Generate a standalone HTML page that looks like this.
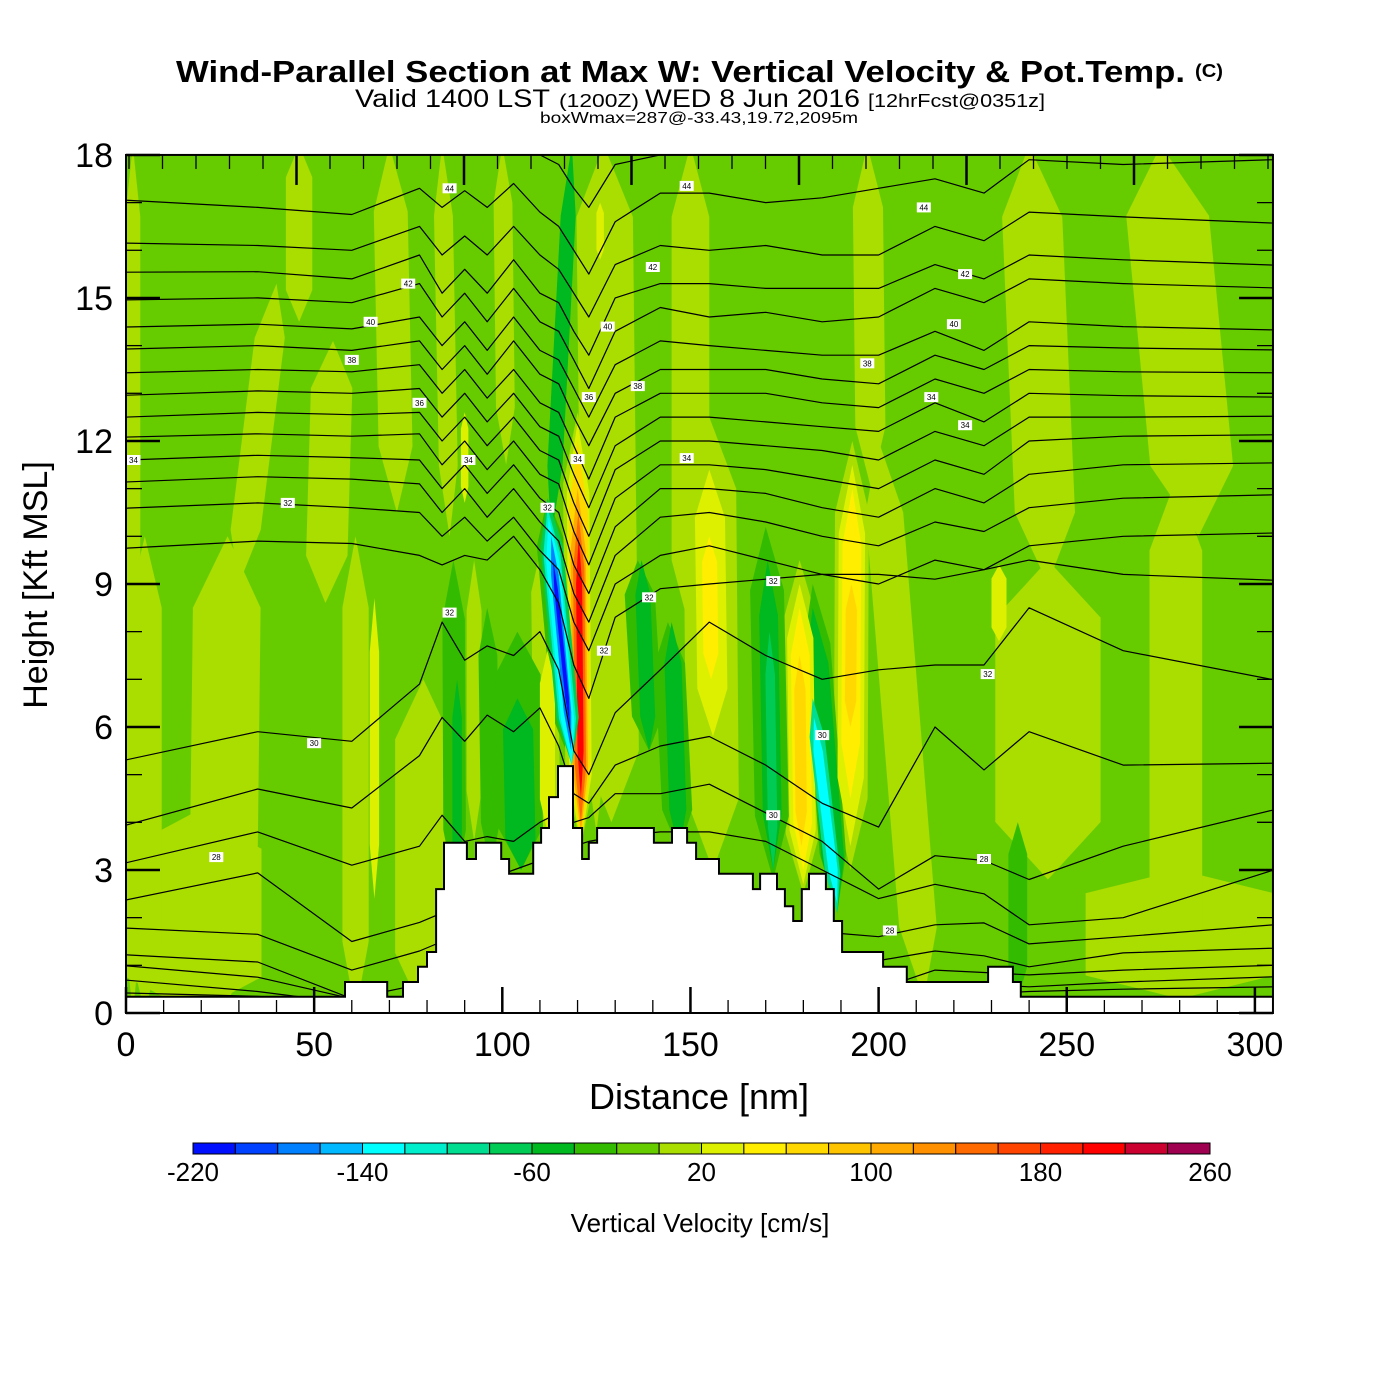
<!DOCTYPE html>
<html><head><meta charset="utf-8">
<style>
html,body{margin:0;padding:0;background:#fff;}
svg{display:block;font-family:"Liberation Sans",Arial,sans-serif;}
</style></head>
<body>
<svg id="chart" width="1400" height="1400" viewBox="0 0 1400 1400" xmlns="http://www.w3.org/2000/svg">
  <rect x="0" y="0" width="1400" height="1400" fill="#ffffff"/>
  <text x="176" y="82" font-size="31" font-weight="bold" textLength="1009" lengthAdjust="spacingAndGlyphs">Wind-Parallel Section at Max W: Vertical Velocity &amp; Pot.Temp.</text>
  <text x="1195" y="77" font-size="18" font-weight="bold" textLength="28" lengthAdjust="spacingAndGlyphs">(C)</text>
  <g>
    <text x="355" y="107" font-size="25" textLength="195" lengthAdjust="spacingAndGlyphs">Valid 1400 LST</text>
    <text x="559" y="107" font-size="18" textLength="80" lengthAdjust="spacingAndGlyphs">(1200Z)</text>
    <text x="645" y="107" font-size="25" textLength="215" lengthAdjust="spacingAndGlyphs">WED 8 Jun 2016</text>
    <text x="868" y="107" font-size="18" textLength="177" lengthAdjust="spacingAndGlyphs">[12hrFcst@0351z]</text>
  </g>
  <text x="540" y="123" font-size="16" textLength="318" lengthAdjust="spacingAndGlyphs">boxWmax=287@-33.43,19.72,2095m</text>
  <defs><clipPath id="plotClip"><rect x="126" y="155" width="1147" height="858"/></clipPath></defs>
  <g id="plot" clip-path="url(#plotClip)">
    <rect x="126" y="155" width="1147" height="858" fill="#66cc00"/>
    <g id="fills"></g>
    <g id="contours"></g>
    <g id="clabels"></g>
    <g id="terrain"></g>
  </g>
  <g id="axes"></g>
  <text x="699" y="1109" font-size="36" text-anchor="middle">Distance [nm]</text>
  <text transform="translate(47,585) rotate(-90)" font-size="34" text-anchor="middle">Height [Kft MSL]</text>
  <g id="colorbar"></g>
  <text x="700" y="1232" font-size="26" text-anchor="middle">Vertical Velocity [cm/s]</text>
</svg>
<script>
// ---------- data ----------
const cbLevels = [-220,-200,-180,-160,-140,-120,-100,-80,-60,-40,-20,0,20,40,60,80,100,120,140,160,180,200,220,240,260];
const cbColors = ["#0010ff","#0040ff","#0080ff","#00b8ff","#00ffff","#00eecc","#00dd90","#00cc55","#00b820","#33bb00","#66cc00","#aadd00","#ddf000","#ffee00","#ffd800","#ffc400","#ffaa00","#ff9000","#ff6a00","#ff4400","#ff2000","#ff0000","#cc0030","#a00050"];
const cbTickLabels = ["-220","-140","-60","20","100","180","260"];
const xTickLabels = ["0","50","100","150","200","250","300"];
const yTickLabels = ["0","3","6","9","12","15","18"];

// vertical-velocity features (cm/s), centre distance at bottom/top (nm), bottom/top height (kft), width (nm)
const featVal = [10,10,10,10,10,10,10,10,10,10,10,10,10,10,10,10,10,10,10,10,10,10,10,10,10,10,10,
  -30,-30,-30,-30,-30,-30,-30,-30,-30,
  -50,-50,-50,-50,-50,-50,-50,
  30,30,30,30,30,30,30,30,
  10,30,70,110,150,210,
  -70,-110,-130,-170,-210,
  50,50,70,50,70,
  -70,-90,-130];
const featXb = [1.8,18,25.5,5,30,46,53,61,79,72,86,101,129,92.5,112,125,156,150,198,180,192.5,212,245,280,279,285,245,
  87.4,97,105,118.5,139,147,172,189,237,
  88,105,113,139,147,172,189,
  66,90,112,126,156,180,192.5,232,
  120.9,120.9,120.9,120.9,120.9,120.9,
  118.5,118.5,118.5,118.3,118,
  155.5,180,179.5,192.5,192.5,
  172,189,189];
const featXt = [1.8,18,27,5,40,46,55,61,79,70,84,100,127,92.5,111,124,155,150,197,179,193,200,245,280,279,275,240,
  87,96,104,112,136,144,170,182.5,237,
  88,104,118.5,137,145,170.5,182.5,
  66,90,112,126,155,179,193,232,
  120,120,120,120,120.2,120.3,
  112,112,112.3,113,113.5,
  155,179,179,193,192.8,
  171,182.5,182.8];
const featHb = [0,0,0,0,9,14.5,8.6,0,0,10.5,10,11.5,4,3.6,3.5,3.8,3,8,11,2.5,3,0.3,2.8,0.3,0.3,10,9,
  2.6,3,3,5.2,5.5,3.4,2.8,2.1,0.3,
  2.6,3,10,5.5,3.4,3,2.1,
  2.4,10.7,3.8,15.8,5.8,2.7,3.5,7.8,
  3.5,3.5,3.6,3.8,4,4.5,
  5.2,5.2,5.2,5.5,6,
  7,3,3.5,4.5,6,
  3,2.1,2.3];
const featHt = [18.2,4.2,10,10,15.3,18.2,14.1,10,7,18.2,18.2,18.2,18.2,9.5,10,12,12.5,18.2,18.2,9.5,12,12,9.5,3,11.2,18.2,18.2,
  9.5,8.5,8,10.8,9.5,8.2,10.2,9,4,
  7,6.6,18.2,9.5,8.2,9.5,8.5,
  8.7,12.6,7.6,17,11.4,9,11.5,9.4,
  12.6,12.4,12,11,10.5,10,
  10.8,10.6,10.4,10,9.5,
  10,8.5,7.5,11,9,
  8,6.6,6.2];
const featW = [4,36,18,9,8,7,11,7,15,9,5,5,15,4,7,5,14,10,8,9,9,10,28,50,14,22,16,
  6,5,12,8,8,8,9,7,5,
  2.5,8,4,4,4.5,5,6,
  2.5,2,4,2,8,7,7,4,
  8,6,5,4,3,1.6,
  6,4.5,3.5,2,1,
  4,5,3,5,3,
  2.5,4,2.5];

// potential-temperature contours: heights (kft) at knot distances (nm)
const knotX = [0,35,60,78,84,90,96,103,110,115,119,123,130,142,155,170,185,200,215,228,240,265,305];
const theta01 = [18.3,18.2,18.0,18.4,18.1,18.4,18.0,18.5,18.0,17.8,17.3,16.9,17.8,18.0,18.1,18.2,18.3,18.3,18.4,18.3,18.5,18.5,18.6];
const theta02 = [17.05,16.9,16.75,17.3,16.9,17.25,16.9,17.4,16.8,16.5,16.0,15.5,16.6,17.2,17.2,17.0,17.1,17.3,17.5,17.2,17.9,17.8,17.9];
const theta03 = [16.15,16.1,16.0,16.5,15.9,16.3,15.9,16.5,15.9,15.6,15.1,14.6,15.7,16.1,16.0,16.1,15.9,15.9,16.5,16.2,16.8,16.7,16.57];
const theta04 = [15.54,15.55,15.4,15.9,15.1,15.6,15.1,15.8,15.1,14.9,14.3,13.8,15.0,15.3,15.3,15.2,15.2,15.2,15.7,15.4,15.9,15.8,15.69];
const theta05 = [14.96,15.0,14.9,15.3,14.6,15.1,14.5,15.2,14.5,14.3,13.7,13.1,14.3,14.8,14.6,14.7,14.5,14.6,15.2,14.9,15.4,15.3,15.21];
const theta06 = [14.39,14.45,14.35,14.6,14.0,14.5,13.9,14.6,13.9,13.7,13.1,12.5,13.6,14.1,14.0,13.9,13.8,13.8,14.3,13.9,14.5,14.4,14.33];
const theta07 = [13.93,14.0,13.9,14.1,13.5,14.0,13.4,14.1,13.4,13.2,12.5,11.9,13.0,13.5,13.5,13.5,13.3,13.2,13.8,13.5,14.0,13.95,13.91];
const theta08 = [13.43,13.5,13.45,13.6,13.0,13.5,12.9,13.5,12.8,12.6,11.9,11.2,12.5,13.0,13.0,13.0,12.8,12.7,13.3,13.0,13.5,13.45,13.43];
const theta09 = [12.96,13.05,13.0,13.1,12.5,13.0,12.4,13.0,12.3,12.1,11.3,10.6,11.9,12.5,12.5,12.4,12.3,12.2,12.8,12.4,13.0,12.95,12.92];
const theta10 = [12.5,12.6,12.55,12.6,12.0,12.5,11.9,12.5,11.8,11.6,10.7,10.0,11.4,12.0,12.0,11.9,11.8,11.6,12.2,11.9,12.5,12.5,12.52];
const theta11 = [12.08,12.15,12.1,12.15,11.5,12.0,11.4,12.0,11.3,11.1,10.1,9.4,10.8,11.5,11.5,11.4,11.2,11.0,11.6,11.3,12.0,12.1,12.13];
const theta12 = [11.6,11.7,11.65,11.6,11.0,11.5,10.9,11.5,10.8,10.5,9.4,8.8,10.2,11.0,11.0,10.9,10.6,10.4,11.0,10.7,11.3,11.5,11.54];
const theta13 = [11.14,11.25,11.2,11.1,10.5,11.0,10.4,11.0,10.3,9.9,8.8,8.2,9.6,10.4,10.5,10.3,10.0,9.8,10.3,10.1,10.6,10.8,10.87];
const theta14 = [10.59,10.7,10.6,10.5,10.0,10.4,9.9,10.4,9.7,9.3,8.2,7.6,9.0,9.6,9.8,9.5,9.2,9.0,9.5,9.3,9.8,10.0,10.07];
const theta15 = [9.75,9.9,9.85,9.6,9.4,9.6,9.5,10.0,9.3,8.6,7.3,6.6,8.3,8.9,9.0,9.1,9.2,9.2,9.1,9.3,9.5,9.2,9.08];
const theta16 = [5.31,5.9,5.7,6.9,8.2,7.4,7.7,7.5,8.0,7.2,5.5,5.0,6.3,7.2,8.2,7.5,7.0,7.2,7.3,7.3,8.5,7.6,6.99];
const theta17 = [3.94,4.7,4.3,5.4,6.2,5.7,6.25,5.9,6.4,5.6,4.6,4.4,5.2,5.6,5.8,5.2,4.4,3.9,6.0,5.1,5.9,5.2,5.24];
const theta18 = [3.15,3.8,3.1,3.5,4.15,3.6,3.7,3.6,4.0,4.2,4.0,4.1,4.6,4.6,4.8,4.2,3.6,2.6,3.3,3.2,2.8,3.5,4.26];
const theta19 = [2.37,2.94,1.5,1.9,2.1,2.5,2.8,3.0,3.2,3.4,3.5,3.6,3.7,3.8,3.8,3.6,3.0,2.4,2.7,2.5,1.85,2.0,3.0];
const theta20 = [1.78,1.65,0.9,1.3,1.5,1.6,1.7,1.8,1.8,1.8,1.8,1.8,1.8,1.8,1.8,1.8,1.7,1.6,1.85,1.89,1.45,1.6,1.85];
const theta21 = [1.22,1.07,0.3,0.6,0.8,1,1,1,1,1,1,1,1,1,1,1,1,1.1,1.3,1.2,0.97,1.26,1.36];
const theta22 = [0.99,0.75,0.3,0.3,0.3,0.3,0.3,0.3,0.3,0.3,0.3,0.3,0.3,0.3,0.3,0.3,0.3,0.5,0.9,0.85,0.8,0.9,1.0];
const theta23 = [0.69,0.45,0.2,0.2,0.2,0.2,0.2,0.2,0.2,0.2,0.2,0.2,0.2,0.2,0.2,0.2,0.2,0.3,0.5,0.6,0.55,0.65,0.76];
const theta24 = [0.42,0.35,0.2,0.2,0.2,0.2,0.2,0.2,0.2,0.2,0.2,0.2,0.2,0.2,0.2,0.2,0.2,0.2,0.3,0.4,0.45,0.5,0.55];
const thetaLines = [theta01,theta02,theta03,theta04,theta05,theta06,theta07,theta08,theta09,theta10,theta11,theta12,theta13,theta14,theta15,theta16,theta17,theta18,theta19,theta20,theta21,theta22,theta23,theta24];

// contour labels: distance (nm), height (kft), text
const labelX = [86,149,212,75,140,223,65,128,220,60,136,197,78,123,214,223,2,91,120,149,43,112,172,139,86,127,229,50,185,172,24,228,203];
const labelH = [17.3,17.35,16.9,15.3,15.65,15.5,14.5,14.4,14.45,13.7,13.15,13.63,12.8,12.92,12.92,12.33,11.6,11.6,11.62,11.64,10.7,10.6,9.06,8.72,8.4,7.6,7.11,5.66,5.83,4.15,3.27,3.23,1.73];
const labelText = ["44","44","44","42","42","42","40","40","40","38","38","38","36","36","34","34","34","34","34","34","32","32","32","32","32","32","32","30","30","30","28","28","28"];

// terrain steps: start distance (nm) and height (kft)
const terrX = [0,58.2,69.4,73.6,77.6,80.0,82.4,84.5,90.6,93.0,99.7,101.8,108.2,110.3,112.4,114.8,118.8,121.2,123.0,125.2,140.3,145.1,149.1,151.5,157.6,166.6,168.5,173.0,175.1,177.3,179.6,181.5,186.0,188.1,190.3,201.2,207.5,229.1,235.7,237.8];
const terrH = [0.34,0.65,0.34,0.65,0.97,1.28,2.60,3.57,3.23,3.57,3.23,2.92,3.57,3.88,4.53,5.18,3.88,3.23,3.57,3.88,3.57,3.88,3.57,3.23,2.92,2.60,2.92,2.60,2.24,1.93,2.60,2.92,2.60,1.93,1.28,0.97,0.65,0.97,0.65,0.34];

// ---------- scales ----------
const X0 = 126, XPER = 3.763, Y0 = 1013, YPER = 47.67, XMAX = 304.8, YMAX = 18;
function sx(d){ return X0 + d*XPER; }
function sy(h){ return Y0 - h*YPER; }
function colorFor(v){
  let i = Math.floor((v - cbLevels[0]) / 20);
  i = Math.max(0, Math.min(cbColors.length-1, i));
  return cbColors[i];
}
const NS = "http://www.w3.org/2000/svg";
function mk(tag, attrs, parent){
  const e = document.createElementNS(NS, tag);
  for (const k in attrs) e.setAttribute(k, attrs[k]);
  parent.appendChild(e);
  return e;
}

// ---------- velocity fills ----------
const fills = document.getElementById("fills");
for (let i=0;i<featVal.length;i++){
  const hb=featHb[i], ht=featHt[i], w=featW[i]/2, xb=featXb[i], xt=featXt[i];
  const tp = Math.min(0.18*(ht-hb), 1.5);
  const xAt = h => xb + (xt-xb)*(h-hb)/(ht-hb);
  const pts = [
    [xb, hb], [xAt(hb+tp)+w, hb+tp], [xAt(ht-tp)+w, ht-tp], [xt, ht],
    [xAt(ht-tp)-w, ht-tp], [xAt(hb+tp)-w, hb+tp]
  ].map(p => sx(p[0]).toFixed(1)+","+sy(p[1]).toFixed(1)).join(" ");
  const el = mk("polygon", {points: pts, fill: colorFor(featVal[i])}, fills);
  
  
}

// ---------- theta contours ----------
const cg = document.getElementById("contours");
thetaLines.forEach((line, li) => {
  const d = line.map((h, j) => (j?"L":"M") + sx(knotX[j]).toFixed(1) + "," + sy(h).toFixed(1)).join(" ");
  const p = mk("path", {d: d, fill: "none", stroke: "#000", "stroke-width": "1.2", "stroke-linejoin": "round"}, cg);
  
  
});

// ---------- contour labels ----------
const lg = document.getElementById("clabels");
for (let i=0;i<labelText.length;i++){
  const g = mk("g", {transform: "translate("+sx(labelX[i]).toFixed(1)+","+sy(labelH[i]).toFixed(1)+")"}, lg);
  
  
  mk("rect", {x:-7, y:-5, width:14, height:10, fill:"#fff"}, g);
  const t = mk("text", {x:0, y:3, "font-size":"8", "text-anchor":"middle", fill:"#000"}, g);
  t.textContent = labelText[i];
}

// ---------- terrain ----------
const tg = document.getElementById("terrain");
let td = "M" + sx(0) + "," + (Y0+2);
let od = "";
for (let i=0;i<terrX.length;i++){
  const xs = sx(terrX[i]), xe = sx(i+1<terrX.length ? terrX[i+1] : XMAX+1), y = sy(terrH[i]);
  td += " L" + xs.toFixed(1) + "," + y.toFixed(1) + " L" + xe.toFixed(1) + "," + y.toFixed(1);
  od += (i? " L":"M") + xs.toFixed(1) + "," + y.toFixed(1) + " L" + xe.toFixed(1) + "," + y.toFixed(1);
}
td += " L" + sx(XMAX+1) + "," + (Y0+2) + " Z";
const tf = mk("path", {d: td, fill: "#fff", stroke: "none"}, tg);


const to = mk("path", {d: od, fill: "none", stroke: "#000", "stroke-width": "2"}, tg);



// ---------- axes ----------
const ax = document.getElementById("axes");
const frame = mk("rect", {x: X0, y: sy(YMAX), width: sx(XMAX)-X0, height: Y0-sy(YMAX), fill: "none", stroke: "#000", "stroke-width": "2"}, ax);


// bottom ticks
for (let d=0; d<=XMAX; d+=10){
  const major = d % 50 === 0;
  const t = mk("line", {x1: sx(d), x2: sx(d), y1: Y0, y2: Y0 - (major?26:13), stroke: "#000", "stroke-width": major?2.5:1.3}, ax);
  
  
}
// top ticks
for (let k=0; k<35; k++){
  const x = X0 + 3 + k*33.5;
  if (x > sx(XMAX)) break;
  const major = (k % 5 === 0) && k>0;
  const t = mk("line", {x1: x, x2: x, y1: sy(YMAX), y2: sy(YMAX) + (major?30:14), stroke: "#000", "stroke-width": major?2.5:1.3}, ax);
  
  
}
// left/right ticks
for (let h=0; h<=YMAX; h+=1){
  const major = h % 3 === 0;
  const len = major?34:16;
  const l = mk("line", {x1: X0, x2: X0+len, y1: sy(h), y2: sy(h), stroke: "#000", "stroke-width": major?2.5:1.3}, ax);
  
  
  const r = mk("line", {x1: sx(XMAX), x2: sx(XMAX)-len, y1: sy(h), y2: sy(h), stroke: "#000", "stroke-width": major?2.5:1.3}, ax);
  
  
}
xTickLabels.forEach(s => {
  const t = mk("text", {x: sx(parseFloat(s)), y: 1056, "font-size": "34", "text-anchor": "middle"}, ax);
  t.textContent = s;
  
  
});
yTickLabels.forEach(s => {
  const t = mk("text", {x: 113, y: sy(parseFloat(s)) + 12, "font-size": "34", "text-anchor": "end"}, ax);
  t.textContent = s;
  
  
});

// ---------- colorbar ----------
const cb = document.getElementById("colorbar");
const CB0 = 193, CB1 = 1210, CBW = (CB1-CB0)/cbColors.length;
function cbx(v){ return CB0 + (v - cbLevels[0]) / (cbLevels[cbLevels.length-1]-cbLevels[0]) * (CB1-CB0); }
cbColors.forEach((c, i) => {
  const r = mk("rect", {x: cbx(cbLevels[i]).toFixed(2), y: 1143, width: CBW.toFixed(2), height: 11, fill: c, stroke: "#000", "stroke-width": "1"}, cb);
  
  
});
cbTickLabels.forEach(s => {
  const t = mk("text", {x: cbx(parseFloat(s)), y: 1181, "font-size": "26", "text-anchor": "middle"}, cb);
  t.textContent = s;
  
  
});
</script>
</body></html>
